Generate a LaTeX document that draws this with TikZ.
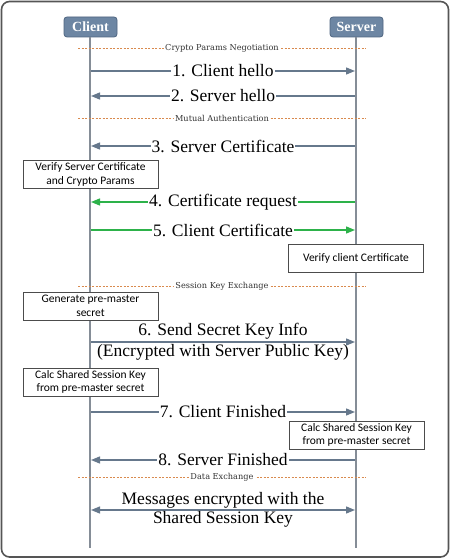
\documentclass[tikz,border=0pt]{standalone}
\usepackage{fontspec}
\setmainfont{Liberation Serif}
\newfontfamily\boxfont{Carlito}
\newfontfamily\phasefont{DejaVu Serif}
\usetikzlibrary{arrows.meta}
\definecolor{hdr}{HTML}{6D86A3}
\definecolor{hdrdark}{HTML}{4E6480}
\definecolor{life}{HTML}{858D97}
\definecolor{msg}{HTML}{66788C}
\definecolor{grn}{HTML}{2DB24A}
\definecolor{org}{HTML}{D98A4E}
\definecolor{frame}{HTML}{555555}
\tikzset{
  hdrbox/.style={draw=hdrdark,fill=hdr,rounded corners=3pt,line width=0.8pt,text=white,font=\bfseries\fontsize{14}{14}\selectfont,minimum width=53pt,minimum height=20pt,inner sep=0pt},
  lifeline/.style={draw=life,line width=1.5pt},
  msgline/.style={draw=msg,line width=1.3pt,-{Triangle[length=9pt,width=7pt]}},
  msgboth/.style={draw=msg,line width=1.3pt,{Triangle[length=9pt,width=7pt]}-{Triangle[length=9pt,width=7pt]}},
  grnline/.style={draw=grn,line width=1.3pt,-{Triangle[length=9pt,width=7pt]}},
  msgtext/.style={fill=white,inner sep=1pt,font=\fontsize{17.5}{17.5}\selectfont},
  phase/.style={draw=org,line width=0.9pt,dash pattern=on 2pt off 1.5pt},
  phasetext/.style={fill=white,inner sep=1pt,font=\phasefont\fontsize{8.2}{8.2}\selectfont,text=black!80},
  actbox/.style={draw=black!70,fill=white,line width=0.8pt,font=\boxfont\fontsize{11.5}{13.5}\selectfont,align=center,minimum width=135pt,minimum height=28pt,inner sep=1pt},
}
\begin{document}
\begin{tikzpicture}[x=1pt,y=-1pt]
\useasboundingbox (0,0) rectangle (450,559);
\draw[frame,line width=1.6pt,rounded corners=8pt,fill=white] (1.5,1.5) rectangle (448.5,557);
% headers
\node[hdrbox] (c) at (90.5,27) {Client};
\node[hdrbox] (s) at (356.5,27) {Server};
\coordinate (cend) at (90,548);
\coordinate (send) at (356,548);
\draw[lifeline] (c.south -| cend) -- (cend);
\draw[lifeline] (s.south -| send) -- (send);
% phases
\coordinate (p1l) at (78,48); \coordinate (p1r) at (366,48);
\draw[phase] (p1l) -- (p1r) node[midway,phasetext]{Crypto Params Negotiation};
\coordinate (p2l) at (78,118); \coordinate (p2r) at (366,118);
\draw[phase] (p2l) -- (p2r) node[midway,phasetext]{Mutual Authentication};
\coordinate (p3l) at (78,286); \coordinate (p3r) at (366,286);
\draw[phase] (p3l) -- (p3r) node[midway,phasetext]{Session Key Exchange};
\coordinate (p4l) at (78,477); \coordinate (p4r) at (366,477);
\draw[phase] (p4l) -- (p4r) node[midway,phasetext]{Data Exchange};
% messages
\coordinate (c1) at (91,71); \coordinate (s1) at (355,71);
\draw[msgline] (c1) -- (s1) node[midway,msgtext]{1. Client hello};
\coordinate (c2) at (91,96); \coordinate (s2) at (355,96);
\draw[msgline] (s2) -- (c2) node[midway,msgtext]{2. Server hello};
\coordinate (c3) at (91,146); \coordinate (s3) at (355,146);
\draw[msgline] (s3) -- (c3) node[midway,msgtext]{3. Server Certificate};
\node[actbox] (b1) at (90.5,174.5) {Verify Server Certificate\\and Crypto Params};
\coordinate (c4) at (91,202); \coordinate (s4) at (355,202);
\draw[grnline] (s4) -- (c4) node[midway,msgtext]{4. Certificate request};
\coordinate (c5) at (91,230); \coordinate (s5) at (355,230);
\draw[grnline] (c5) -- (s5) node[midway,msgtext]{5. Client Certificate};
\node[actbox] (b2) at (356,258) {Verify client Certificate};
\node[actbox] (b3) at (90.5,306) {Generate pre-master\\secret};
\coordinate (c6) at (91,342); \coordinate (s6) at (355,342);
\draw[msgline] (c6) -- (s6) node[midway,above=1pt,msgtext,fill=none]{6. Send Secret Key Info}
  node[midway,below=1pt,msgtext,fill=none]{(Encrypted with Server Public Key)};
\node[actbox] (b4) at (90.5,382) {Calc Shared Session Key\\from pre-master secret};
\coordinate (c7) at (91,412); \coordinate (s7) at (355,412);
\draw[msgline] (c7) -- (s7) node[midway,msgtext]{7. Client Finished};
\node[actbox] (b5) at (356.5,435) {Calc Shared Session Key\\from pre-master secret};
\coordinate (c8) at (91,460); \coordinate (s8) at (355,460);
\draw[msgline] (s8) -- (c8) node[midway,msgtext]{8. Server Finished};
\coordinate (c9) at (91,510); \coordinate (s9) at (355,510);
\draw[msgboth] (c9) -- (s9) node[midway,above=0pt,msgtext,fill=none]{Messages encrypted with the}
  node[midway,below=0pt,msgtext,fill=none]{Shared Session Key};
\end{tikzpicture}
\end{document}
